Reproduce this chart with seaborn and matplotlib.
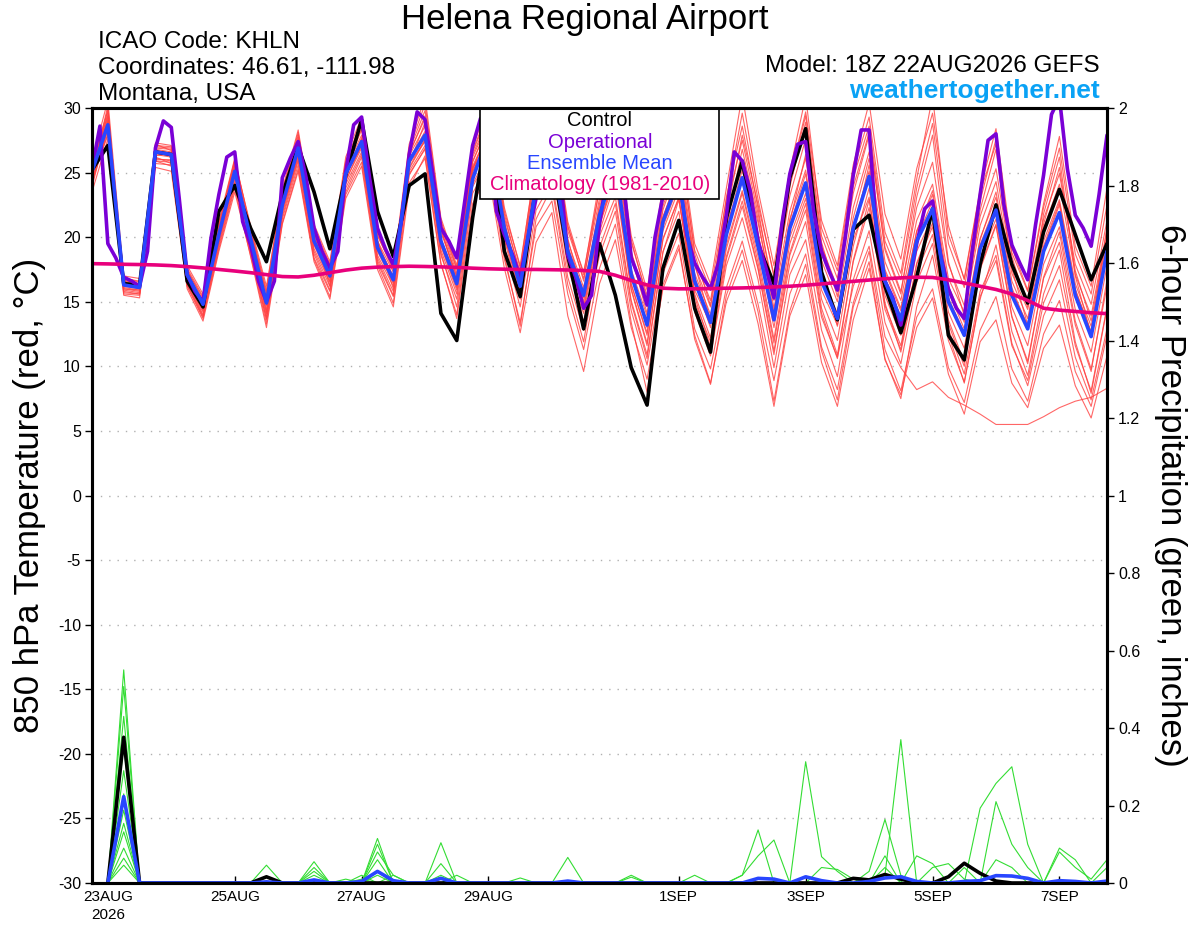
import numpy as np
import pandas as pd
import matplotlib
matplotlib.use('Agg')
import matplotlib.pyplot as plt
from matplotlib.patches import Rectangle
import seaborn as sns

sns.set_style('ticks')
plt.rcParams['font.family'] = ['Liberation Sans', 'DejaVu Sans']
plt.rcParams['text.color'] = 'black'
plt.rcParams['xtick.color'] = 'black'
plt.rcParams['ytick.color'] = 'black'
plt.rcParams['axes.labelcolor'] = 'black'

# forecast hours from the 18Z 22AUG2026 run
hours6 = np.arange(0, 385, 6)
hours3 = np.arange(0, 385, 3)
precip_hours = np.arange(6, 385, 6)

tick_hours = [6, 54, 102, 150, 222, 270, 318, 366]
tick_labels = ['23AUG\n2026', '25AUG', '27AUG', '29AUG', '1SEP', '3SEP', '5SEP', '7SEP']

# 850 hPa temperature (C)
control = [25.2, 27.1, 16.4, 16.3, 26.6, 26.4, 16.6, 14.6, 22.0, 24.0, 20.7, 18.1, 23.3, 27.0, 23.5, 19.1,
           24.8, 29.1, 22.0, 18.5, 24.0, 24.9, 14.1, 12.0, 21.5, 29.2, 18.9, 15.4, 24.0, 26.0, 18.6, 12.9,
           19.5, 15.5, 9.9, 7.0, 17.6, 21.3, 14.5, 11.1, 21.5, 25.9, 19.4, 16.4, 24.6, 28.4, 17.3, 13.6,
           20.6, 21.7, 16.2, 12.6, 16.9, 22.2, 12.4, 10.5, 17.9, 22.5, 17.9, 14.9, 20.4, 23.7, 20.2, 16.7, 19.5]
ens_mean = [25.1, 28.7, 16.3, 16.1, 26.6, 26.4, 17.1, 14.8, 20.2, 25.1, 19.9, 14.9, 22.5, 26.9, 19.7, 17.0,
            24.9, 27.4, 19.2, 16.7, 25.9, 27.9, 19.7, 16.4, 24.5, 28.0, 20.7, 16.2, 24.0, 26.5, 18.9, 15.5,
            21.7, 25.5, 17.1, 13.2, 21.2, 24.5, 16.6, 13.4, 20.2, 24.6, 19.3, 13.6, 20.7, 24.2, 16.6, 13.7,
            20.7, 24.7, 16.6, 13.6, 19.7, 22.2, 15.0, 12.4, 19.1, 22.1, 15.5, 12.9, 18.9, 21.9, 15.5, 12.3, 18.9]
climo = [17.95, 17.93, 17.9, 17.88, 17.85, 17.8, 17.72, 17.62, 17.5, 17.38, 17.25, 17.1, 16.95, 16.92, 17.05,
         17.25, 17.45, 17.6, 17.68, 17.72, 17.75, 17.73, 17.7, 17.66, 17.6, 17.55, 17.52, 17.5, 17.5, 17.48,
         17.46, 17.42, 17.35, 17.05, 16.65, 16.3, 16.05, 16.0, 16.0, 16.02, 16.05, 16.07, 16.1, 16.15, 16.2,
         16.28, 16.38, 16.48, 16.58, 16.68, 16.78, 16.85, 16.9, 16.88, 16.7, 16.45, 16.2, 15.95, 15.6, 15.1,
         14.5, 14.35, 14.25, 14.15, 14.08]
# operational run, 3-hourly
operational = [25.3, 28.6, 19.5, 18.4, 16.9, 16.6, 16.2, 18.9, 26.9, 29.0, 28.5, 23.0, 17.1, 15.8, 15.0, 19.9,
               23.3, 26.2, 26.6, 21.2, 19.4, 16.6, 15.0, 16.6, 24.6, 26.1, 27.4, 24.6, 20.7, 18.9, 17.6, 18.9,
               25.1, 28.7, 29.3, 24.6, 20.7, 19.1, 17.85, 21.2, 26.4, 29.7, 29.1, 24.8, 20.7, 19.7, 18.4, 22.75,
               27.1, 29.2, 28.5, 22.0, 20.2, 18.7, 16.9, 20.0, 23.0, 25.5, 26.5, 25.0, 18.6, 16.9, 14.5, 15.5,
               21.0, 25.0, 26.5, 24.5, 18.4, 16.8, 14.75, 20.0, 23.2, 25.5, 25.0, 20.2, 18.0, 16.9, 16.0, 18.0,
               21.7, 26.6, 25.9, 23.6, 19.7, 17.6, 15.3, 21.0, 24.9, 27.2, 27.4, 22.0, 18.9, 17.3, 15.9, 20.0,
               24.8, 28.3, 28.3, 20.0, 16.6, 15.3, 13.2, 16.3, 19.5, 22.2, 22.8, 18.7, 16.0, 14.5, 13.7, 18.9,
               23.3, 27.5, 28.0, 22.5, 19.4, 18.0, 16.7, 21.0, 24.8, 29.5, 30.8, 25.3, 21.7, 20.7, 19.3, 23.3, 27.9]

# ensemble members (red)
mem01 = [24.8, 30.2, 16.0, 15.8, 26.9, 26.8, 16.5, 14.2, 20.8, 25.8, 19.5, 14.1, 23.2, 27.9, 20.3, 16.2, 25.5,
         28.8, 19.8, 16.0, 26.7, 29.8, 20.9, 17.2, 26.4, 29.1, 21.8, 17.0, 25.3, 27.9, 20.5, 16.8, 23.0, 27.2,
         18.9, 14.8, 22.9, 26.8, 18.2, 15.1, 22.4, 27.5, 21.8, 15.9, 23.2, 27.6, 19.3, 16.1, 23.4, 27.9, 19.2,
         15.8, 22.3, 25.8, 17.9, 14.7, 21.6, 25.3, 17.8, 15.2, 21.4, 24.9, 17.9, 14.8, 21.3]
mem02 = [23.5, 27.6, 15.6, 15.5, 25.7, 25.6, 16.3, 13.8, 19.3, 24.0, 18.8, 13.6, 21.4, 25.6, 18.4, 15.8, 23.5,
         26.2, 18.0, 15.4, 24.8, 26.9, 18.6, 15.2, 24.1, 26.5, 19.2, 14.6, 22.1, 24.3, 16.9, 12.8, 18.6, 22.0,
         14.3, 10.1, 17.2, 20.3, 12.9, 9.8, 16.1, 19.7, 14.8, 8.9, 15.6, 18.7, 11.5, 8.2, 14.9, 18.9, 11.3,
         8.1, 13.8, 16.0, 9.9, 7.2, 12.8, 15.4, 9.8, 7.3, 12.5, 15.1, 9.6, 6.9, 12.4]
mem03 = [25.6, 29.4, 16.6, 16.4, 27.0, 26.9, 17.5, 15.1, 20.7, 25.5, 20.5, 15.3, 23.0, 27.3, 20.2, 17.5, 25.3,
         27.9, 19.7, 17.3, 26.3, 28.6, 20.4, 17.0, 26.2, 28.9, 21.0, 16.5, 24.6, 27.3, 19.3, 15.0, 21.0, 24.9,
         16.0, 11.8, 19.8, 23.1, 15.0, 11.9, 18.5, 22.8, 17.6, 11.2, 17.9, 21.2, 13.8, 10.7, 16.2, 19.3, 12.3,
         9.9, 8.2, 8.8, 7.6, 7.0, 6.3, 5.5, 5.5, 5.5, 6.1, 6.8, 7.3, 7.6, 8.3]
mem04 = [25.9, 30.6, 17.0, 16.8, 27.3, 27.1, 17.8, 15.6, 21.2, 26.1, 20.7, 15.9, 23.7, 28.3, 21.0, 18.1, 26.2,
         29.3, 20.4, 17.6, 27.2, 30.8, 21.5, 17.8, 27.0, 30.2, 22.3, 17.6, 26.1, 29.4, 21.2, 17.1, 24.4, 29.1,
         20.1, 15.9, 24.0, 28.2, 19.5, 16.4, 23.8, 31.0, 23.6, 17.8, 25.1, 30.9, 20.7, 17.4, 25.1, 29.3, 20.4,
         17.2, 24.5, 30.9, 20.2, 16.8, 23.7, 28.4, 19.2, 15.9, 22.6, 27.8, 19.3, 16.2, 23.8]
mem05 = [24.2, 28.3, 15.9, 15.7, 26.1, 25.9, 16.9, 14.3, 19.6, 24.6, 19.2, 14.4, 22.0, 26.4, 19.1, 16.5, 24.4,
         26.9, 18.6, 16.2, 25.1, 27.1, 19.0, 15.6, 24.8, 27.3, 19.8, 15.2, 23.1, 25.4, 17.6, 14.1, 20.4, 24.3,
         15.9, 11.6, 19.9, 23.0, 14.8, 11.0, 18.3, 22.4, 17.5, 10.9, 18.6, 22.1, 14.1, 10.6, 18.2, 22.9, 14.7,
         11.6, 17.9, 20.8, 13.6, 10.3, 17.5, 20.9, 13.8, 10.4, 16.8, 19.6, 13.2, 9.6, 16.7]
mem06 = [25.3, 29.0, 16.4, 16.0, 26.4, 26.2, 16.8, 14.5, 20.0, 24.9, 19.7, 14.7, 22.8, 27.1, 19.6, 16.8, 24.6,
         27.7, 19.5, 16.9, 26.0, 28.2, 19.9, 16.7, 25.9, 28.6, 20.4, 16.7, 24.5, 26.9, 19.7, 16.1, 22.3, 26.4,
         18.3, 14.6, 22.1, 25.7, 17.8, 14.6, 21.3, 25.9, 21.1, 15.1, 22.0, 26.1, 18.2, 15.0, 22.3, 26.6, 18.1,
         15.1, 21.3, 24.1, 16.8, 14.2, 20.9, 24.3, 17.2, 14.4, 20.7, 24.1, 17.1, 13.9, 20.6]
mem07 = [24.6, 28.0, 15.5, 15.3, 25.4, 25.1, 16.0, 13.5, 18.9, 23.5, 18.6, 13.3, 21.1, 25.3, 18.3, 15.4, 23.3,
         25.8, 17.8, 14.9, 24.2, 26.1, 17.9, 14.0, 23.4, 25.6, 18.3, 13.4, 20.8, 22.8, 15.6, 11.3, 17.6, 21.0,
         13.4, 8.0, 16.3, 19.4, 12.1, 8.6, 15.5, 19.0, 14.2, 7.3, 14.3, 17.9, 11.2, 7.4, 14.6, 18.1, 10.5,
         7.8, 13.0, 15.3, 9.4, 6.3, 11.9, 13.6, 8.7, 6.8, 11.4, 13.2, 8.5, 6.0, 10.8]
mem08 = [25.0, 29.3, 16.9, 16.5, 26.8, 26.6, 17.4, 15.3, 20.5, 25.3, 20.3, 15.6, 22.6, 26.6, 20.0, 17.3, 25.1,
         27.6, 19.4, 17.0, 25.7, 27.4, 19.4, 16.1, 25.2, 28.3, 21.0, 16.9, 24.2, 26.4, 19.3, 15.8, 22.0, 25.8,
         17.5, 13.9, 21.6, 24.8, 17.2, 14.0, 21.0, 24.3, 19.2, 13.0, 20.0, 23.4, 15.9, 13.2, 20.2, 25.6, 17.5,
         14.5, 20.4, 23.6, 16.2, 13.4, 19.8, 23.5, 16.6, 13.7, 19.7, 22.9, 16.4, 13.1, 19.9]
mem09 = [25.7, 29.8, 16.2, 16.2, 27.2, 26.7, 17.3, 14.9, 20.9, 25.9, 20.9, 16.2, 23.4, 27.7, 20.6, 17.8, 25.8,
         28.4, 20.1, 17.6, 26.5, 29.2, 21.1, 17.5, 26.6, 29.5, 21.5, 17.3, 25.5, 28.6, 20.8, 17.3, 23.7, 28.3,
         19.6, 15.5, 23.3, 27.4, 19.0, 15.9, 22.9, 29.6, 22.9, 16.9, 24.4, 29.4, 20.1, 16.8, 24.6, 28.6, 19.7,
         16.7, 23.8, 28.8, 19.5, 16.1, 22.8, 27.6, 18.8, 15.8, 22.3, 26.9, 18.7, 15.6, 22.5]
mem10 = [23.9, 28.6, 16.0, 15.9, 25.9, 25.8, 16.6, 14.0, 19.8, 24.4, 19.0, 13.9, 21.8, 26.2, 18.9, 16.2, 24.1,
         26.6, 18.4, 15.8, 25.4, 27.6, 19.3, 15.9, 25.0, 27.8, 20.2, 15.5, 23.5, 26.0, 18.1, 14.6, 21.1, 25.0,
         16.4, 12.4, 20.5, 23.7, 15.6, 12.2, 19.4, 23.6, 18.5, 12.1, 19.5, 23.0, 15.2, 12.0, 19.3, 23.8, 15.5,
         12.4, 18.9, 21.6, 14.2, 11.4, 18.4, 21.4, 14.6, 11.6, 17.9, 20.8, 14.4, 11.1, 17.8]
mem11 = [25.4, 29.1, 16.7, 16.3, 26.3, 26.5, 17.0, 14.6, 19.9, 25.0, 19.4, 14.2, 22.1, 26.0, 19.4, 16.6, 24.8,
         27.0, 18.9, 16.4, 25.6, 28.9, 20.6, 16.9, 25.4, 27.2, 20.0, 15.8, 23.8, 25.8, 18.5, 13.4, 20.1, 23.1,
         15.1, 10.9, 18.9, 22.0, 14.2, 10.8, 17.8, 21.5, 16.7, 9.9, 17.1, 19.8, 12.8, 9.2, 16.7, 20.5, 13.4,
         10.2, 16.5, 19.5, 12.5, 8.7, 15.4, 18.2, 11.6, 8.9, 14.9, 17.8, 11.6, 8.1, 14.6]
mem12 = [24.5, 27.9, 16.1, 15.9, 26.0, 26.0, 17.2, 14.9, 20.3, 24.7, 19.9, 15.1, 22.3, 26.3, 19.8, 16.9, 24.3,
         27.2, 19.1, 16.6, 25.3, 27.5, 19.5, 16.3, 25.5, 28.1, 20.9, 16.4, 24.4, 27.1, 19.0, 15.6, 21.9, 25.6,
         16.9, 13.5, 21.4, 24.9, 16.5, 13.0, 20.6, 25.2, 20.3, 14.2, 21.4, 25.2, 17.1, 14.1, 21.5, 26.1, 17.3,
         14.3, 20.5, 23.3, 15.8, 12.9, 19.9, 23.1, 16.1, 13.0, 19.3, 22.7, 16.0, 12.6, 19.3]
mem13 = [25.0, 29.6, 16.2, 16.0, 26.5, 26.3, 16.9, 14.4, 20.4, 25.4, 20.1, 14.8, 22.9, 27.5, 20.5, 17.1, 25.4,
         28.3, 19.6, 16.8, 26.4, 29.4, 20.7, 16.6, 25.8, 28.7, 21.3, 16.0, 24.8, 27.8, 19.9, 15.3, 22.6, 26.9,
         18.6, 14.1, 22.4, 26.1, 17.9, 13.6, 20.9, 26.8, 21.4, 14.5, 21.2, 26.4, 17.4, 13.1, 19.8, 23.1, 14.9,
         11.1, 17.3, 20.2, 12.9, 9.4, 15.8, 18.6, 11.8, 8.5, 13.9, 16.7, 10.7, 7.4, 12.9]
mem14 = [24.1, 28.9, 15.8, 15.6, 26.2, 25.7, 16.4, 13.9, 19.5, 24.2, 18.9, 13.7, 21.6, 25.9, 18.7, 15.9, 23.8,
         26.4, 18.2, 15.5, 24.9, 26.8, 18.8, 14.6, 23.9, 26.2, 18.6, 13.1, 21.4, 23.9, 16.3, 11.9, 19.2, 22.6,
         14.9, 10.6, 18.8, 22.9, 15.9, 13.3, 21.7, 27.9, 22.5, 17.1, 24.6, 29.7, 21.3, 17.8, 25.6, 30.4, 21.8,
         18.3, 25.3, 29.6, 20.9, 16.7, 23.5, 27.2, 18.5, 14.6, 21.0, 25.4, 17.4, 13.5, 20.2]
mem15 = [25.5, 28.8, 16.5, 16.3, 26.7, 26.5, 17.2, 15.0, 20.6, 25.6, 20.0, 15.0, 22.7, 26.8, 19.9, 17.1, 25.0,
         27.3, 19.3, 16.5, 25.8, 28.0, 19.8, 16.2, 25.3, 28.2, 20.6, 15.9, 23.6, 26.1, 18.4, 14.4, 20.9, 24.6,
         16.3, 12.6, 20.8, 24.1, 15.4, 11.5, 19.1, 23.4, 18.0, 11.8, 18.8, 22.6, 14.5, 10.9, 18.1, 22.3, 14.4,
         11.3, 18.0, 21.1, 13.3, 10.0, 17.7, 21.0, 13.9, 10.2, 16.9, 20.4, 13.5, 9.8, 16.2]
mem16 = [24.9, 29.9, 16.8, 16.6, 27.1, 27.0, 17.6, 15.4, 21.0, 26.0, 20.6, 15.7, 23.5, 28.1, 20.8, 17.9, 25.9,
         28.9, 20.2, 17.4, 26.9, 30.3, 21.3, 17.6, 26.7, 29.8, 22.0, 17.8, 25.8, 28.9, 20.9, 16.6, 23.8, 28.7,
         19.8, 15.2, 23.6, 27.8, 18.7, 14.7, 23.1, 28.6, 22.2, 15.2, 23.9, 28.9, 19.6, 15.4, 23.9, 28.1, 19.0,
         15.6, 23.1, 27.9, 18.1, 13.9, 22.1, 26.8, 17.6, 13.2, 21.8, 26.2, 17.0, 12.4, 20.8]
mem17 = [24.3, 28.4, 15.7, 15.6, 25.9, 25.5, 16.2, 13.7, 19.1, 23.8, 18.5, 13.0, 21.0, 25.1, 18.1, 15.2, 23.0,
         25.5, 17.5, 14.6, 23.8, 26.3, 18.0, 13.7, 22.6, 24.9, 17.6, 12.6, 19.6, 21.9, 13.9, 9.6, 16.4, 19.8,
         13.0, 9.0, 16.0, 19.1, 12.4, 8.7, 15.0, 18.2, 13.3, 6.9, 13.9, 17.1, 10.3, 6.9, 13.6, 17.6, 10.6,
         7.5, 14.6, 18.6, 12.0, 8.8, 15.2, 19.4, 12.7, 9.3, 15.6, 19.0, 11.9, 7.9, 14.5]
mem18 = [25.2, 28.5, 16.3, 16.1, 26.6, 26.4, 17.0, 14.8, 20.1, 25.1, 19.8, 14.9, 22.5, 26.9, 19.7, 17.0, 24.9,
         27.4, 19.2, 16.7, 25.9, 27.8, 19.6, 16.4, 25.1, 27.6, 20.5, 16.1, 24.1, 26.6, 19.0, 15.7, 21.8, 25.9,
         17.4, 13.0, 21.5, 25.0, 16.9, 13.6, 20.0, 24.7, 19.6, 13.8, 20.9, 24.9, 16.9, 13.9, 20.9, 25.1, 16.8,
         13.9, 19.9, 22.8, 15.3, 12.6, 19.4, 22.6, 15.8, 13.2, 19.1, 22.5, 15.9, 12.7, 19.4]

# 6-hour precipitation (inches), valid 00Z 23AUG onwards, 16 values per row
pcp_control = [0, 0.376, 0, 0, 0, 0, 0, 0, 0, 0, 0.016, 0, 0, 0, 0, 0,
               0, 0, 0, 0, 0, 0, 0, 0, 0, 0, 0, 0, 0, 0, 0, 0,
               0, 0, 0, 0, 0, 0, 0, 0, 0, 0, 0, 0, 0, 0, 0, 0.012,
               0.008, 0.022, 0.01, 0, 0, 0.016, 0.051, 0.025, 0.005, 0, 0, 0, 0, 0, 0, 0]
pcp_mean = [0, 0.223, 0, 0, 0, 0, 0, 0, 0, 0, 0.003, 0, 0, 0.008, 0, 0,
            0.004, 0.03, 0.006, 0, 0, 0.012, 0, 0, 0, 0, 0, 0, 0, 0.005, 0, 0,
            0, 0, 0, 0, 0, 0, 0, 0, 0, 0.012, 0.01, 0, 0.016, 0.006, 0, 0,
            0.004, 0.013, 0.016, 0.004, 0, 0, 0.004, 0.006, 0.019, 0.018, 0.012, 0, 0.006, 0.004, 0, 0.005]
pcp01 = [0, 0.55, 0, 0, 0, 0, 0, 0, 0, 0, 0.046, 0, 0, 0, 0, 0,
         0.01, 0, 0, 0, 0, 0, 0, 0, 0, 0, 0, 0, 0, 0, 0, 0,
         0, 0.02, 0, 0, 0, 0, 0, 0, 0, 0, 0, 0, 0, 0.04, 0.035, 0.01,
         0, 0, 0, 0, 0, 0, 0, 0, 0.21, 0.1, 0.04, 0, 0, 0, 0, 0]
pcp02 = [0, 0.507, 0, 0, 0, 0, 0, 0, 0, 0, 0, 0, 0, 0.055, 0, 0,
         0, 0, 0, 0, 0, 0.104, 0, 0, 0, 0, 0, 0, 0, 0, 0, 0,
         0, 0.015, 0, 0, 0, 0, 0, 0, 0, 0, 0, 0, 0, 0, 0, 0,
         0.03, 0.164, 0.02, 0, 0, 0, 0, 0, 0, 0, 0, 0, 0, 0, 0, 0]
pcp03 = [0, 0.43, 0, 0, 0, 0, 0, 0, 0, 0, 0, 0, 0, 0.04, 0, 0,
         0, 0.115, 0, 0, 0, 0, 0, 0, 0, 0, 0, 0, 0, 0, 0, 0,
         0, 0, 0, 0, 0, 0, 0, 0, 0.02, 0.137, 0, 0, 0, 0, 0, 0,
         0, 0, 0, 0, 0, 0, 0, 0, 0.06, 0.04, 0, 0, 0, 0, 0, 0]
pcp04 = [0, 0.352, 0, 0, 0, 0, 0, 0, 0, 0, 0, 0, 0, 0.03, 0, 0,
         0, 0.1, 0, 0, 0, 0, 0, 0, 0, 0, 0, 0, 0, 0, 0, 0,
         0, 0, 0, 0, 0, 0.02, 0, 0, 0, 0, 0, 0, 0, 0, 0, 0,
         0, 0.07, 0, 0, 0, 0, 0, 0, 0, 0, 0, 0, 0.09, 0.06, 0, 0]
pcp05 = [0, 0.29, 0, 0, 0, 0, 0, 0, 0, 0, 0, 0, 0, 0.02, 0, 0,
         0, 0.08, 0.02, 0, 0, 0, 0, 0, 0, 0, 0, 0, 0, 0, 0, 0,
         0, 0, 0, 0, 0, 0, 0, 0, 0.02, 0.07, 0.111, 0, 0, 0, 0, 0,
         0, 0, 0, 0, 0, 0, 0, 0, 0, 0, 0, 0, 0.08, 0.04, 0.01, 0.06]
pcp06 = [0, 0.23, 0, 0, 0, 0, 0, 0, 0, 0, 0, 0, 0, 0, 0, 0.01,
         0, 0.06, 0, 0, 0, 0.05, 0, 0, 0, 0, 0, 0, 0, 0, 0, 0,
         0, 0, 0, 0, 0, 0, 0, 0, 0, 0, 0, 0, 0, 0, 0, 0,
         0, 0.04, 0, 0, 0, 0, 0, 0, 0, 0, 0, 0, 0, 0, 0, 0.04]
pcp07 = [0, 0.188, 0, 0, 0, 0, 0, 0, 0, 0, 0, 0, 0, 0, 0, 0,
         0.02, 0, 0, 0, 0, 0.02, 0, 0, 0, 0, 0, 0, 0, 0, 0, 0,
         0, 0, 0, 0, 0, 0, 0, 0, 0, 0, 0, 0, 0.313, 0.068, 0.03, 0,
         0, 0, 0, 0, 0, 0, 0, 0, 0, 0, 0, 0, 0, 0, 0, 0]
pcp08 = [0, 0.154, 0, 0, 0, 0, 0, 0, 0, 0, 0, 0, 0, 0, 0, 0,
         0, 0.03, 0, 0, 0, 0.015, 0, 0, 0, 0, 0, 0, 0, 0, 0, 0,
         0, 0, 0, 0, 0, 0, 0, 0, 0, 0, 0, 0, 0, 0, 0, 0,
         0, 0.02, 0.37, 0, 0, 0, 0, 0, 0, 0, 0, 0, 0, 0, 0, 0]
pcp09 = [0, 0.132, 0, 0, 0, 0, 0, 0, 0, 0, 0, 0, 0, 0, 0, 0,
         0, 0.02, 0, 0, 0, 0, 0, 0, 0, 0, 0.013, 0, 0, 0, 0, 0,
         0, 0, 0, 0, 0, 0, 0, 0, 0, 0, 0, 0, 0, 0, 0, 0,
         0, 0, 0, 0.07, 0.05, 0, 0, 0, 0, 0, 0, 0, 0, 0, 0, 0]
pcp10 = [0, 0.09, 0, 0, 0, 0, 0, 0, 0, 0, 0, 0, 0, 0, 0, 0,
         0, 0, 0.02, 0, 0, 0, 0, 0, 0, 0, 0, 0, 0, 0, 0, 0,
         0, 0, 0, 0, 0, 0, 0, 0, 0, 0, 0, 0, 0, 0, 0, 0,
         0, 0, 0, 0, 0.04, 0.05, 0.01, 0, 0, 0, 0, 0, 0, 0, 0, 0]
pcp11 = [0, 0.064, 0, 0, 0, 0, 0, 0, 0, 0, 0, 0, 0, 0, 0, 0,
         0, 0, 0, 0, 0, 0, 0.02, 0, 0, 0, 0, 0, 0, 0, 0, 0,
         0, 0, 0, 0, 0, 0, 0, 0, 0, 0, 0, 0, 0, 0, 0, 0,
         0, 0, 0, 0, 0, 0, 0.04, 0, 0, 0, 0, 0, 0, 0, 0, 0]
pcp12 = [0, 0.046, 0, 0, 0, 0, 0, 0, 0, 0, 0, 0, 0, 0, 0, 0,
         0, 0, 0, 0, 0, 0, 0, 0, 0, 0, 0, 0, 0, 0.066, 0, 0,
         0, 0, 0, 0, 0, 0, 0, 0, 0, 0, 0, 0, 0, 0, 0, 0,
         0, 0, 0, 0, 0, 0, 0, 0.193, 0.257, 0.3, 0.1, 0, 0, 0, 0, 0]

temp_members = [mem01, mem02, mem03, mem04, mem05, mem06, mem07, mem08, mem09,
                mem10, mem11, mem12, mem13, mem14, mem15, mem16, mem17, mem18]
pcp_members = [pcp01, pcp02, pcp03, pcp04, pcp05, pcp06, pcp07, pcp08, pcp09, pcp10, pcp11, pcp12]

red_df = pd.DataFrame({'hour': np.tile(hours6, len(temp_members)),
                       'temp': np.concatenate(temp_members),
                       'member': np.repeat(np.arange(len(temp_members)), len(hours6))})
green_df = pd.DataFrame({'hour': np.tile(precip_hours, len(pcp_members)),
                         'pcp': np.concatenate(pcp_members),
                         'member': np.repeat(np.arange(len(pcp_members)), len(precip_hours))})

fig = plt.figure(figsize=(12, 9.27), dpi=100)
ax = fig.add_axes([92 / 1200, 44 / 927, 1015 / 1200, 775 / 927])

sns.lineplot(data=red_df, x='hour', y='temp', units='member', estimator=None, sort=False,
             color='#ff4040', lw=0.8, alpha=0.8, legend=False, ax=ax)
sns.lineplot(x=hours6, y=control, color='black', lw=2.6, ax=ax)
sns.lineplot(x=hours3, y=operational, color='#7a00d6', lw=2.6, ax=ax)
sns.lineplot(x=hours6, y=ens_mean, color='#2846ff', lw=2.6, ax=ax)
sns.lineplot(x=hours6, y=climo, color='#e8007c', lw=2.6, ax=ax)

ax.set_xlim(0, 384)
ax.set_ylim(-30, 30)
ax.set_yticks(range(-30, 31, 5))
ax.set_yticklabels([str(v) for v in range(-30, 31, 5)])
ax.set_xticks(tick_hours)
ax.set_xticklabels(tick_labels, linespacing=1.35)
ax.set_xlabel('')
ax.set_ylabel('')
for v in range(-25, 26, 5):
    ax.axhline(v, color='#b0b0b0', lw=1, ls=(0, (1, 5)), zorder=0)
ax.tick_params(axis='y', direction='out', length=5, width=1, labelsize=11.5, pad=3)
ax.tick_params(axis='x', direction='in', length=5, width=1, labelsize=11, pad=5)

ax2 = ax.twinx()
sns.lineplot(data=green_df, x='hour', y='pcp', units='member', estimator=None, sort=False,
             color='#33dd33', lw=0.8, legend=False, ax=ax2)
sns.lineplot(x=precip_hours, y=pcp_control, color='black', lw=2.6, ax=ax2)
sns.lineplot(x=precip_hours, y=pcp_mean, color='#2846ff', lw=2.6, ax=ax2)
ax2.set_ylim(0, 2)
ax2.set_xlim(0, 384)
pticks = np.round(np.arange(0, 2.01, 0.2), 1)
ax2.set_yticks(pticks)
ax2.set_yticklabels(['%g' % v for v in pticks])
ax2.set_ylabel('')
ax2.tick_params(axis='y', direction='out', length=5, width=1, labelsize=11.5, pad=3)

for a in (ax, ax2):
    for s in a.spines.values():
        s.set_color('black')
        s.set_linewidth(2.2)

# legend box with coloured entries
ax.add_patch(Rectangle((388 / 1015, 684 / 775), 239 / 1015, 91 / 775, transform=ax.transAxes,
                       facecolor='white', edgecolor='black', lw=1.2, zorder=10, clip_on=False))
leg_items = [('Control', 'black'), ('Operational', '#7a00d6'),
             ('Ensemble Mean', '#2846ff'), ('Climatology (1981-2010)', '#e8007c')]
for k, (txt, col) in enumerate(leg_items):
    ax.text(508 / 1015, (883 - 121 - 21.3 * k) / 775, txt, color=col, fontsize=14.5,
            ha='center', va='center', transform=ax.transAxes, zorder=11)

fig.text(30 / 1200, 1 - 495 / 927, '850 hPa Temperature (red, °C)', rotation=90,
         ha='center', va='center', fontsize=25)
fig.text(1170 / 1200, 1 - 495 / 927, '6-hour Precipitation (green, inches)', rotation=270,
         ha='center', va='center', fontsize=25)

fig.text(585 / 1200, 1 - 29 / 927, 'Helena Regional Airport', ha='center', va='baseline', fontsize=25)
fig.text(98 / 1200, 1 - 48 / 927, 'ICAO Code: KHLN', ha='left', va='baseline', fontsize=17.5)
fig.text(98 / 1200, 1 - 74 / 927, 'Coordinates: 46.61, -111.98', ha='left', va='baseline', fontsize=17.5)
fig.text(98 / 1200, 1 - 100 / 927, 'Montana, USA', ha='left', va='baseline', fontsize=17.5)
fig.text(1100 / 1200, 1 - 72 / 927, 'Model: 18Z 22AUG2026 GEFS', ha='right', va='baseline', fontsize=17.5)
fig.text(1100 / 1200, 1 - 98 / 927, 'weathertogether.net', ha='right', va='baseline', fontsize=19,
         fontweight='bold', color='#0aa2f5')

fig.savefig('out.png', dpi=100)
